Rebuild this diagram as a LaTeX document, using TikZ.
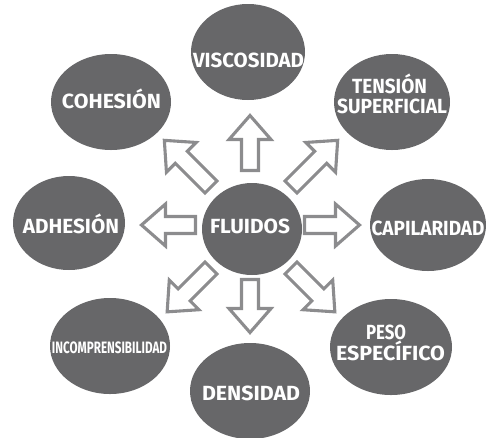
\documentclass[tikz,border=0pt]{standalone}
\usepackage{fontspec}
\setmainfont{Fira Sans}
\usepackage{graphicx}
\usetikzlibrary{shapes.geometric}
\definecolor{blobgray}{RGB}{103,103,105}
\definecolor{arrgray}{RGB}{140,140,142}
\newcommand\fitw[2]{\resizebox{#1pt}{\height}{#2}}
\newcommand\barrow[3]{%
  \draw[arrowline, shift={(#1)}, rotate=#2]
    (0,-8.5) -- ({#3-24},-8.5) -- ({#3-24},-21) -- (#3,0) --
    ({#3-24},21) -- ({#3-24},8.5) -- (0,8.5) -- cycle;}
\tikzset{
  blob/.style={ellipse, fill=blobgray, inner sep=0pt},
  lbl/.style={text=white, font=\fontsize{20.5}{21}\selectfont\bfseries, inner sep=0pt, anchor=base},
  smlbl/.style={lbl, font=\fontsize{16.5}{17}\selectfont\bfseries},
  arrowline/.style={draw=arrgray, fill=white, line width=3.1pt, line join=miter}
}
\begin{document}
\begin{tikzpicture}[x=1pt, y=-1pt]
\useasboundingbox (0,0) rectangle (486,437);
\clip (0,0) rectangle (486,437);
% ellipses
\node[blob, minimum width=114pt, minimum height=96pt] (visc) at (248,52) {};
\node[blob, minimum width=120pt, minimum height=96pt] (coh) at (111,102) {};
\node[blob, minimum width=116pt, minimum height=96pt] (ten) at (392,102) {};
\node[blob, minimum width=112pt, minimum height=94pt] (adh) at (69,223) {};
\node[blob, minimum width=100pt, minimum height=92pt] (fl) at (252,229) {};
\node[blob, minimum width=116pt, minimum height=92pt] (cap) at (428,225) {};
\node[blob, minimum width=122pt, minimum height=96pt] (peso) at (391,347) {};
\node[blob, minimum width=120pt, minimum height=96pt] (dens) at (250,391) {};
\node[blob, minimum width=120pt, minimum height=96pt] (inc) at (110,346) {};
% labels
\node[lbl] (visc-t) at (248.5,67) {\fitw{111}{VISCOSIDAD}};
\node[lbl] (coh-t) at (111.5,108) {\fitw{99}{COHESIÓN}};
\node[lbl] (ten-t1) at (389.5,93) {\fitw{75}{TENSIÓN}};
\node[lbl] (ten-t2) at (392,113) {\fitw{110}{SUPERFICIAL}};
\node[lbl] (adh-t) at (71,233) {\fitw{96}{ADHESIÓN}};
\node[lbl] (cap-t) at (428,235) {\fitw{113}{CAPILARIDAD}};
\node[lbl] (fl-t) at (250,233) {\fitw{80}{FLUIDOS}};
\node[lbl] (peso-t1) at (386,339.5) {\fitw{40}{PESO}};
\node[lbl] (peso-t2) at (390.5,360) {\fitw{109}{ESPECÍFICO}};
\node[lbl] (dens-t) at (251,400) {\fitw{98}{DENSIDAD}};
\node[smlbl] (inc-t) at (109.5,353) {\fitw{115}{INCOMPRENSIBILIDAD}};
% arrow tails
\coordinate (a-up) at (250,170.5);
\coordinate (a-dn) at (250,279.5);
\coordinate (a-lf) at (195.5,225);
\coordinate (a-rt) at (304.5,225);
\coordinate (a-nw) at (211,187);
\coordinate (a-ne) at (291,187);
\coordinate (a-sw) at (211,268);
\coordinate (a-se) at (291,268);
\barrow{a-up}{90}{55}
\barrow{a-dn}{270}{53}
\barrow{a-lf}{180}{54}
\barrow{a-rt}{0}{55}
\barrow{a-nw}{135}{66}
\barrow{a-ne}{45}{66}
\barrow{a-sw}{225}{62}
\barrow{a-se}{315}{62}
\end{tikzpicture}
\end{document}
